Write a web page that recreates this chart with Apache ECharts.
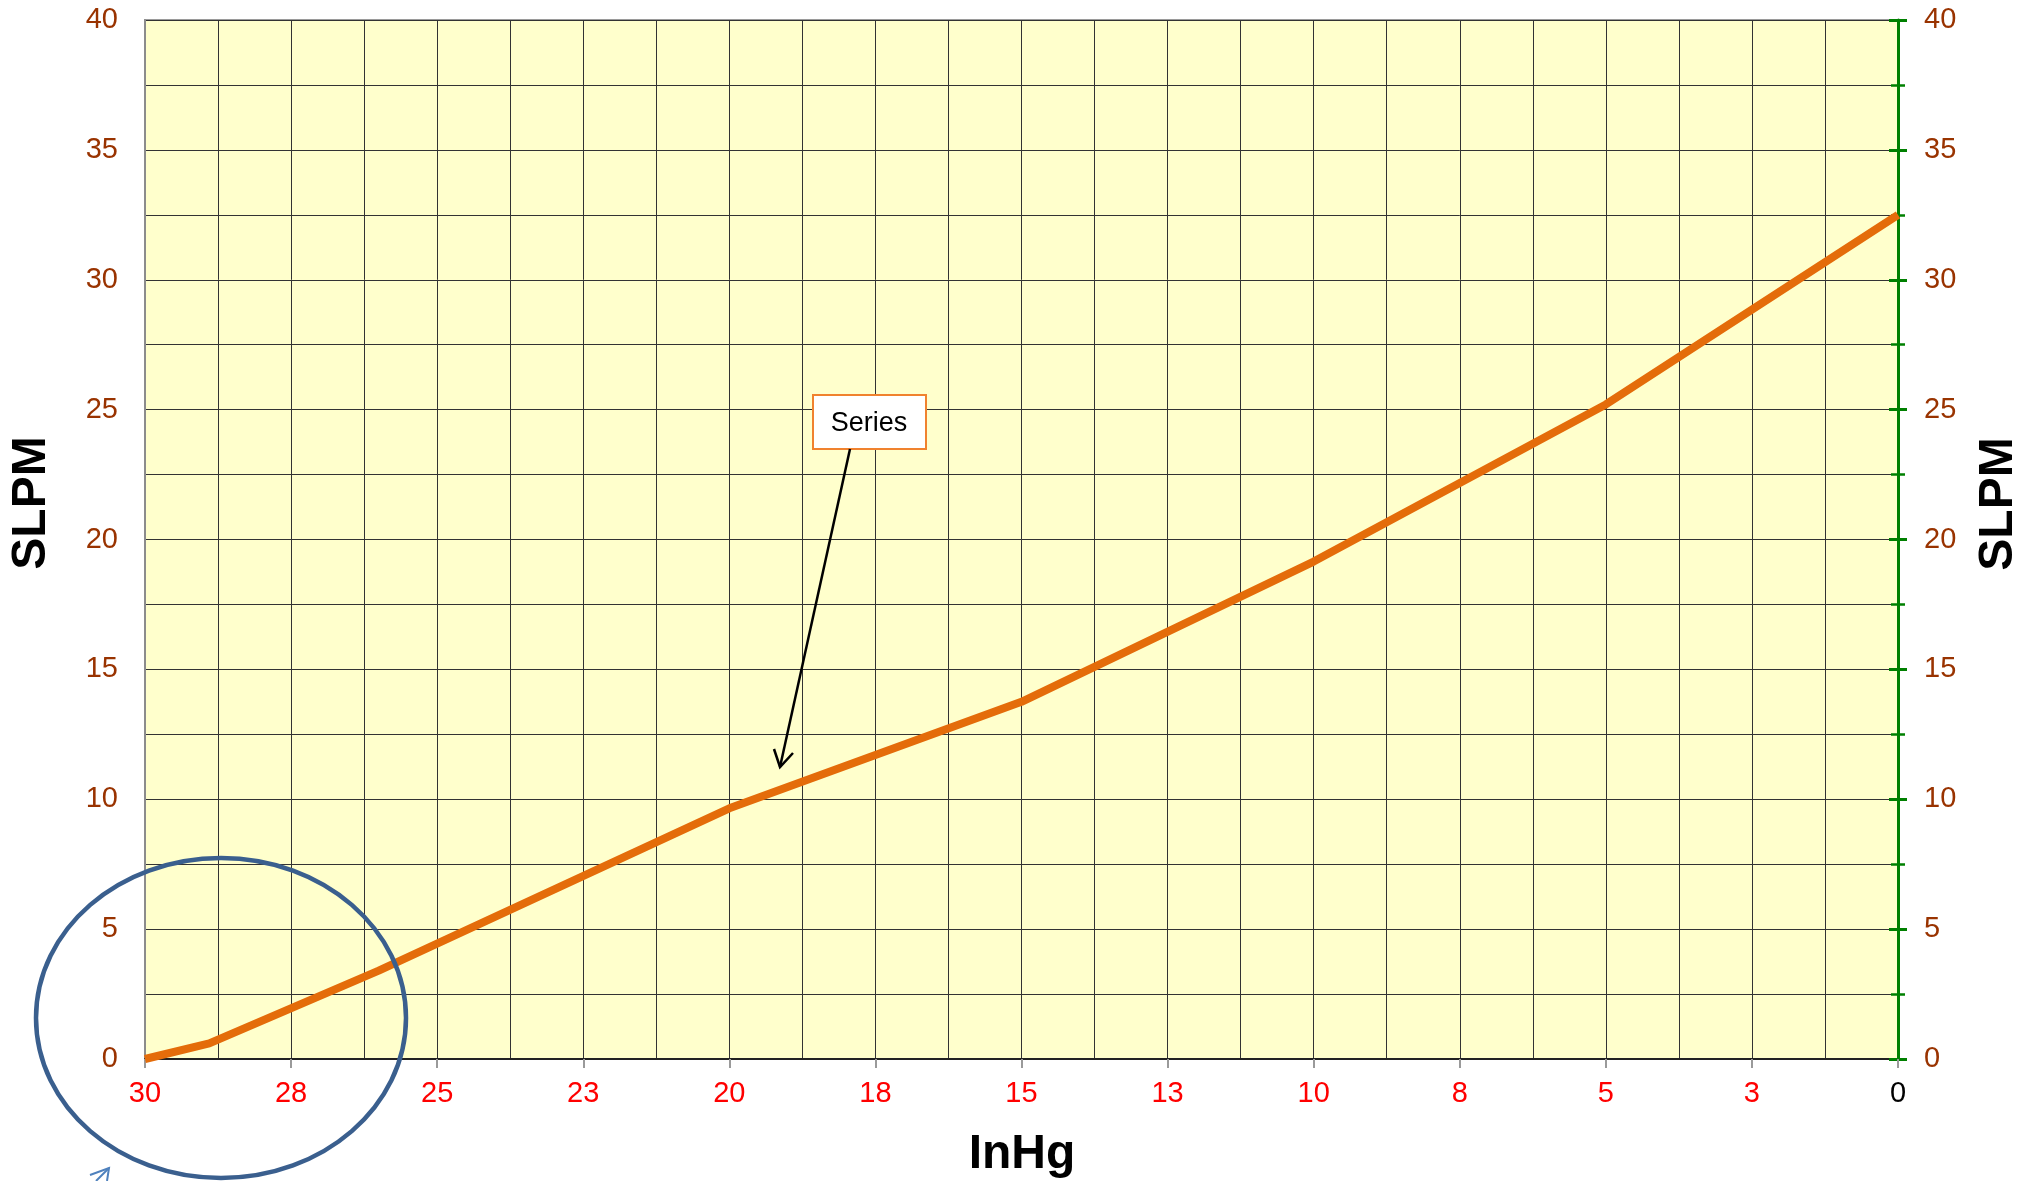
<!DOCTYPE html>
<html>
<head>
<meta charset="utf-8">
<script src="https://cdn.jsdelivr.net/npm/echarts@6/dist/echarts.min.js"></script>
<style>
  html, body { margin: 0; padding: 0; background: #ffffff; }
  #chart { width: 2032px; height: 1181px; }
</style>
</head>
<body>
<div id="chart"></div>
<script>
// ---- data ----
const inHg = [30, 28.9, 26, 20, 15, 10, 5, 0];
const slpm = [0, 0.6, 3.4, 9.65, 13.75, 19.15, 25.2, 32.5];
const xTitle = 'InHg';
const yTitle = 'SLPM';
const calloutText = 'Series';

const FONT = '"Liberation Sans", Arial, sans-serif';
const LABEL_BROWN = '#993300';
const GRID_LINE = '#333333';
const GREEN = '#008000';

const chart = echarts.init(document.getElementById('chart'), null, { renderer: 'canvas' });

const seriesData = inHg.map((x, i) => [x, slpm[i]]);

function yAxisBase() {
  return {
    type: 'value', min: 0, max: 40, interval: 5
  };
}

const option = {
  backgroundColor: '#ffffff',
  animation: false,
  grid: {
    left: 145, right: 134, top: 20, bottom: 122,
    show: true, backgroundColor: '#FFFFCC', borderColor: '#9a9a9a', borderWidth: 2
  },
  xAxis: {
    type: 'value', min: 0, max: 30, interval: 2.5, inverse: true,
    axisLine: { show: true, onZero: false, lineStyle: { color: '#222', width: 2 } },
    axisTick: { show: true, length: 9, lineStyle: { color: '#9a9a9a', width: 2 } },
    minorTick: { show: false, splitNumber: 2 },
    splitLine: { show: true, lineStyle: { color: GRID_LINE, width: 1 } },
    minorSplitLine: { show: true, lineStyle: { color: GRID_LINE, width: 1 } },
    axisLabel: {
      show: true, margin: 20, fontSize: 29, fontFamily: FONT,
      showMinLabel: true, showMaxLabel: true,
      formatter: v => String(Math.round(v)),
      color: v => (Number(v) === 0 ? '#000000' : '#FF0000')
    }
  },
  yAxis: [
    Object.assign(yAxisBase(), {
      position: 'left',
      axisLine: { show: true, onZero: false, lineStyle: { color: '#8c8c8c', width: 2 } },
      axisTick: { show: false },
      minorTick: { show: false, splitNumber: 2 },
      splitLine: { show: true, lineStyle: { color: GRID_LINE, width: 1 } },
      minorSplitLine: { show: true, lineStyle: { color: GRID_LINE, width: 1 } },
      axisLabel: { margin: 27, fontSize: 29, fontFamily: FONT, color: LABEL_BROWN }
    }),
    Object.assign(yAxisBase(), {
      position: 'right',
      axisLine: { show: true, onZero: false, lineStyle: { color: GREEN, width: 3 } },
      axisTick: { show: true, inside: false, length: 9, lineStyle: { color: GREEN, width: 3 } },
      minorTick: { show: true, splitNumber: 2, length: 7, lineStyle: { color: GREEN, width: 2.5 } },
      splitLine: { show: false },
      axisLabel: { margin: 26, fontSize: 29, fontFamily: FONT, color: LABEL_BROWN }
    }),
    Object.assign(yAxisBase(), {
      position: 'right',
      axisLine: { show: false },
      axisTick: { show: true, inside: true, length: 9, lineStyle: { color: GREEN, width: 3 } },
      minorTick: { show: true, splitNumber: 2, length: 7, lineStyle: { color: GREEN, width: 2.5 } },
      splitLine: { show: false },
      axisLabel: { show: false }
    })
  ],
  series: [{
    type: 'line',
    name: calloutText,
    data: seriesData,
    xAxisIndex: 0, yAxisIndex: 0,
    showSymbol: false, symbol: 'none',
    lineStyle: { color: '#E46C0A', width: 8, join: 'round', cap: 'butt' },
    z: 5
  }],
  graphic: [
    // axis titles
    {
      type: 'text', x: 32, y: 503, rotation: Math.PI / 2, z: 10,
      style: { text: yTitle, font: 'bold 48px ' + FONT, fill: '#000', align: 'center', verticalAlign: 'middle' }
    },
    {
      type: 'text', x: 1999, y: 504, rotation: Math.PI / 2, z: 10,
      style: { text: yTitle, font: 'bold 48px ' + FONT, fill: '#000', align: 'center', verticalAlign: 'middle' }
    },
    {
      type: 'text', x: 1022, y: 1155, z: 10,
      style: { text: xTitle, font: 'bold 48px ' + FONT, fill: '#000', align: 'center', verticalAlign: 'middle' }
    },
    // callout box
    {
      type: 'rect', z: 20,
      shape: { x: 813, y: 395, width: 113, height: 54 },
      style: { fill: '#ffffff', stroke: '#F0822E', lineWidth: 2 }
    },
    {
      type: 'text', x: 869, y: 424, z: 21,
      style: { text: calloutText, font: '27px ' + FONT, fill: '#000', align: 'center', verticalAlign: 'middle' }
    },
    // callout arrow
    {
      type: 'line', z: 20,
      shape: { x1: 850, y1: 449, x2: 780, y2: 767 },
      style: { stroke: '#000', lineWidth: 2.5 }
    },
    {
      type: 'polyline', z: 20,
      shape: { points: [[774, 749], [780, 767], [793, 753]] },
      style: { stroke: '#000', lineWidth: 2.5, fill: null }
    },
    // blue ellipse
    {
      type: 'ellipse', z: 30,
      shape: { cx: 221, cy: 1018, rx: 185, ry: 160 },
      style: { fill: null, stroke: '#3A5F8E', lineWidth: 4.5 }
    },
    // small blue arrow (bottom left)
    {
      type: 'polyline', z: 30,
      shape: { points: [[90, 1175], [109, 1168], [107, 1181]] },
      style: { stroke: '#4F81BD', lineWidth: 2, fill: null }
    },
    {
      type: 'line', z: 30,
      shape: { x1: 109, y1: 1168, x2: 96, y2: 1181 },
      style: { stroke: '#4F81BD', lineWidth: 2 }
    }
  ]
};

chart.setOption(option);
</script>
</body>
</html>
